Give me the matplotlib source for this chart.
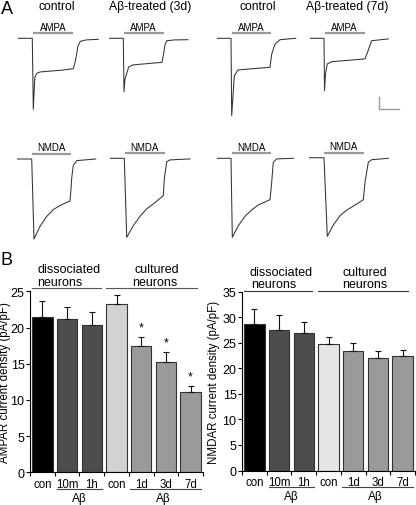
import numpy as np
import matplotlib.pyplot as plt

plt.rcParams['font.family'] = ['Liberation Sans', 'DejaVu Sans']

# ---- panel A: example currents (time in s, current in nA, baseline = 0)
agonist_on, agonist_off = 1.5, 5.45

ampa_ctrl3_t = [0, 1.4, 1.5, 1.65, 1.85, 2.2, 4.2, 5.5, 5.7, 5.85, 5.95, 6.2, 6.8, 8.0]
ampa_ctrl3_i = [0, 0, -3.55, -1.95, -1.75, -1.68, -1.6, -1.52, -1.15, -0.75, -0.4, -0.15, -0.08, -0.05]
ampa_ab3_t = [0, 1.43, 1.5, 1.6, 1.97, 2.4, 5.3, 5.45, 5.6, 5.77, 6.6, 7.9]
ampa_ab3_i = [0, 0, -2.67, -2.03, -1.43, -1.33, -1.2, -0.8, -0.33, -0.12, -0.08, -0.07]
ampa_ctrl7_t = [0, 1.43, 1.5, 1.76, 2.13, 5.33, 5.5, 5.83, 6.33, 7.9]
ampa_ctrl7_i = [0, 0, -3.87, -1.87, -1.58, -1.45, -0.79, -0.29, -0.07, 0]
ampa_ab7_t = [0, 1.4, 1.45, 1.55, 1.73, 2.17, 5.5, 5.8, 6.17, 7.83]
ampa_ab7_i = [0, 0, -2.62, -1.78, -1.28, -1.17, -1.03, -0.63, -0.12, -0.03]

nmda_ctrl3_t = [0, 1.5, 1.73, 2.33, 3.0, 3.66, 4.33, 5.0, 5.33, 5.43, 5.5, 5.66, 6.0, 7.9]
nmda_ctrl3_i = [0, 0, -4.0, -3.37, -2.87, -2.53, -2.33, -2.17, -2.1, -1.5, -0.95, -0.33, -0.08, 0]
nmda_ab3_t = [0, 1.43, 1.67, 2.33, 3.0, 3.67, 4.33, 5.33, 5.43, 5.67, 6.0, 8.0]
nmda_ab3_i = [0, 0, -3.95, -3.37, -2.9, -2.53, -2.28, -1.87, -1.03, -0.17, -0.08, -0.03]
nmda_ctrl7_t = [0, 1.43, 1.56, 2.16, 2.83, 3.5, 4.16, 5.33, 5.5, 5.66, 6.0, 7.66]
nmda_ctrl7_i = [0, 0, -3.95, -3.37, -2.9, -2.58, -2.33, -2.07, -1.2, -0.2, -0.03, 0]
nmda_ab7_t = [0, 1.5, 1.83, 2.43, 3.1, 3.77, 4.6, 5.43, 5.6, 5.93, 6.27, 7.93]
nmda_ab7_i = [0, 0, -3.93, -3.37, -2.9, -2.62, -2.37, -2.1, -1.23, -0.23, -0.1, -0.03]

scale_t, scale_i = 2.0, 0.6

# ---- panel B: current densities (pA/pF)
groups = ['con', '10m', '1h', 'con', '1d', '3d', '7d']
ampa_mean = [21.5, 21.2, 20.3, 23.25, 17.5, 15.3, 11.1]
ampa_sem = [2.1, 1.7, 1.8, 1.2, 1.2, 1.3, 0.8]
ampa_sig = ['', '', '', '', '*', '*', '*']
nmda_mean = [28.6, 27.5, 26.8, 24.8, 23.4, 22.0, 22.4]
nmda_sem = [2.9, 2.9, 2.3, 1.3, 1.5, 1.3, 1.2]
ampa_colors = ['#000000', '#4d4d4d', '#4d4d4d', '#d2d2d2', '#9a9a9a', '#9a9a9a', '#9a9a9a']
nmda_colors = ['#000000', '#4d4d4d', '#4d4d4d', '#e6e6e6', '#9a9a9a', '#9a9a9a', '#9a9a9a']

W, H = 416, 506
fig = plt.figure(figsize=(W / 100, H / 100), dpi=100)


def box(x, y, w, h):
    return [x / W, 1 - (y + h) / H, w / W, h / H]


fig.text(1 / W, 1 - 1 / H, 'A', fontsize=13, va='top', ha='left')
fig.text(0 / W, 1 - 252 / H, 'B', fontsize=13, va='top', ha='left')
for x, s in [(57, 'control'), (150, 'A\u03b2-treated (3d)'), (258, 'control'), (347, 'A\u03b2-treated (7d)')]:
    fig.text(x / W, 1 - 7 / H, s, fontsize=8.7, ha='center', va='center')

# trace axes: 10 px per s, 20 px per nA
traces = [
    (ampa_ctrl3_t, ampa_ctrl3_i, 18.3, 39.3, 'AMPA'),
    (ampa_ab3_t, ampa_ab3_i, 109, 39.3, 'AMPA'),
    (ampa_ctrl7_t, ampa_ctrl7_i, 216.7, 39.3, 'AMPA'),
    (ampa_ab7_t, ampa_ab7_i, 310, 39.3, 'AMPA'),
    (nmda_ctrl3_t, nmda_ctrl3_i, 16.7, 160, 'NMDA'),
    (nmda_ab3_t, nmda_ab3_i, 110, 159.3, 'NMDA'),
    (nmda_ctrl7_t, nmda_ctrl7_i, 216.7, 159.3, 'NMDA'),
    (nmda_ab7_t, nmda_ab7_i, 309, 158.7, 'NMDA'),
]
for k, (t, i, x0, y0, drug) in enumerate(traces):
    ax = fig.add_axes(box(x0, y0 - 16, 82, 4.9 * 20))
    ax.set_xlim(0, 8.2)
    ax.set_ylim(-4.1, 0.8)
    ax.axis('off')
    ax.plot(t, i, color='#333333', lw=0.75)
    ax.plot([agonist_on, agonist_off], [0.25, 0.25], color='#9a9a9a', lw=1.6, solid_capstyle='butt')
    ax.text((agonist_on + agonist_off) / 2, 0.33, drug, fontsize=7, ha='center', va='bottom')
    if k == 3:
        ax.plot([6.93, 6.93, 6.93 + scale_t], [-3.54 + scale_i, -3.54, -3.54], color='#999999', lw=1,
                clip_on=False)

x = np.arange(len(groups))


def bar_panel(ax, mean, sem, colors, top, ylabel, sig=None):
    ax.bar(x, mean, width=0.83, color=colors, edgecolor='#333333', linewidth=0.8)
    ax.errorbar(x, mean, yerr=[np.zeros(len(sem)), sem], fmt='none', ecolor='#111111',
                elinewidth=0.8, capsize=2, capthick=0.8)
    if sig:
        for xi, m, s, star in zip(x, mean, sem, sig):
            if star:
                ax.text(xi, m + s + 0.5, star, ha='center', va='bottom', fontsize=9)
    ax.set_xlim(-0.5, 6.5)
    ax.set_ylim(0, top)
    ax.set_yticks(np.arange(0, top + 1, 5))
    ax.tick_params(axis='y', length=3, width=0.8, pad=1, labelsize=9)
    ax.set_xticks(np.arange(-0.5, 7, 1))
    ax.set_xticklabels([])
    ax.tick_params(axis='x', which='major', length=3, width=0.8)
    ax.set_xticks(x, minor=True)
    ax.set_xticklabels(groups, minor=True, fontsize=8.3)
    ax.tick_params(axis='x', which='minor', length=0, pad=4)
    for sp in ['top', 'right']:
        ax.spines[sp].set_visible(False)
    for sp in ['left', 'bottom']:
        ax.spines[sp].set_linewidth(0.8)
    ax.set_ylabel(ylabel, fontsize=8.3)
    tr = ax.get_xaxis_transform()
    for a, b in [(0.58, 2.42), (3.55, 6.42)]:
        ax.plot([a, b], [-0.092, -0.092], transform=tr, color='#444444', lw=0.8, clip_on=False)
    for xc in [1.5, 4.9]:
        ax.text(xc, -0.14, 'A\u03b2', transform=tr, ha='center', va='center', fontsize=8.5)


axl = fig.add_axes(box(30, 292.3, 173, 181))
bar_panel(axl, ampa_mean, ampa_sem, ampa_colors, 25, 'AMPAR current density (pA/pF)', ampa_sig)
axl.yaxis.set_label_coords(-0.11, 0.5)
trl = axl.get_xaxis_transform()
for a, b in [(-0.42, 2.38), (2.58, 6.26)]:
    axl.plot([a, b], [1.018, 1.018], transform=trl, color='#555555', lw=0.8, clip_on=False)
axl.text(1.09, 1.122, 'dissociated', transform=trl, ha='center', va='center', fontsize=9)
axl.text(0.69, 1.05, 'neurons', transform=trl, ha='center', va='center', fontsize=9)
axl.text(4.63, 1.122, 'cultured', transform=trl, ha='center', va='center', fontsize=9)
axl.text(4.53, 1.05, 'neurons', transform=trl, ha='center', va='center', fontsize=9)

axr = fig.add_axes(box(242, 292.5, 173, 179))
bar_panel(axr, nmda_mean, nmda_sem, nmda_colors, 35, 'NMDAR current density (pA/pF)')
axr.yaxis.set_label_coords(-0.125, 0.5)
trr = axr.get_xaxis_transform()
for a, b in [(-0.42, 2.33), (2.58, 6.23)]:
    axr.plot([a, b], [1.005, 1.005], transform=trr, color='#333333', lw=0.8, clip_on=False)
axr.text(1.1, 1.109, 'dissociated', transform=trr, ha='center', va='center', fontsize=9)
axr.text(0.77, 1.042, 'neurons', transform=trr, ha='center', va='center', fontsize=9)
axr.text(4.48, 1.109, 'cultured', transform=trr, ha='center', va='center', fontsize=9)
axr.text(4.48, 1.042, 'neurons', transform=trr, ha='center', va='center', fontsize=9)

fig.savefig('out.png', dpi=100)
